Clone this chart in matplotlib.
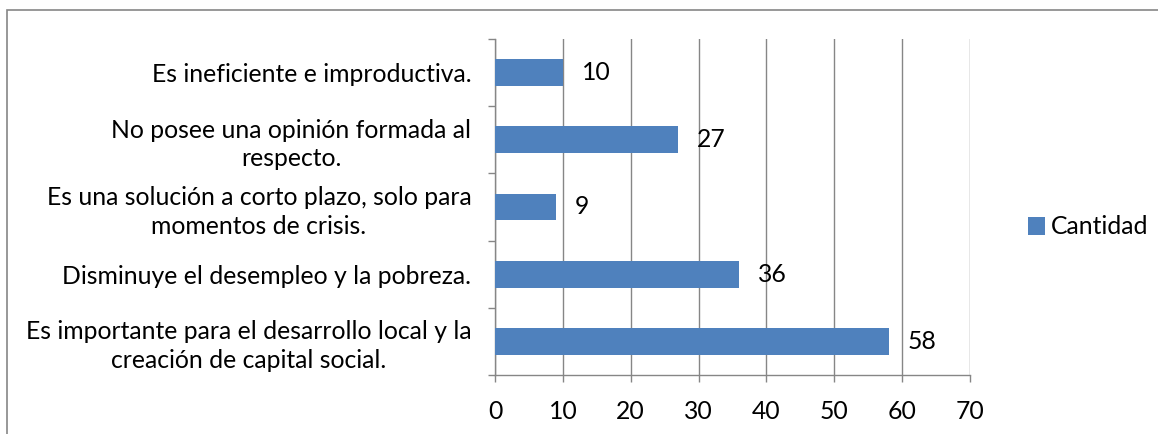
import matplotlib
matplotlib.use("Agg")
import matplotlib.pyplot as plt
from matplotlib.patches import Rectangle

categories = [
    "Es ineficiente e improductiva.",
    "No posee una opinión formada al\nrespecto.",
    "Es una solución a corto plazo, solo para\nmomentos de crisis.",
    "Disminuye el desempleo y la pobreza.",
    "Es importante para el desarrollo local y la\ncreación de capital social.",
]
values = [10, 27, 9, 36, 58]
series_name = "Cantidad"
xticks = [0, 10, 20, 30, 40, 50, 60, 70]

BAR = "#4F81BD"
GRID = "#868686"
FS = 17.8

plt.rcParams["font.family"] = ["Lato", "DejaVu Sans"]

W, H = 1158, 434
fig = plt.figure(figsize=(W / 100, H / 100), dpi=100)
ax = fig.add_axes([495 / W, 1 - 375 / H, 475 / W, 336 / H])

pos = list(range(len(categories)))
ax.barh(pos, values, height=0.4, color=BAR, label=series_name, zorder=3)
for p, v in zip(pos, values):
    ax.text(v + 2.8, p, str(v), va="center", ha="left", fontsize=FS, color="black")

ax.set_xlim(0, 70)
ax.set_ylim(len(categories) - 0.5, -0.5)
ax.set_xticks(xticks)
ax.set_xticklabels([str(t) for t in xticks], fontsize=FS)
ax.set_yticks(pos)
ax.set_yticklabels(categories, fontsize=FS, multialignment="center", linespacing=1.3)
ax.set_yticks([p - 0.5 for p in pos] + [len(pos) - 0.5], minor=True)
ax.tick_params(axis="y", which="major", length=0, pad=17)
ax.tick_params(axis="y", which="minor", length=5, width=1, color=GRID, direction="out")
ax.tick_params(axis="x", length=5, width=1, color=GRID, direction="out", pad=13)
ax.xaxis.grid(True, color=GRID, linewidth=1, zorder=0)
for s in ["top", "right"]:
    ax.spines[s].set_visible(False)
for s in ["left", "bottom"]:
    ax.spines[s].set_color(GRID)
    ax.spines[s].set_linewidth(1)

fig.legend(loc="center left", bbox_to_anchor=(1018 / W, 1 - 227 / H), frameon=False,
           fontsize=FS, handlelength=0.7, handleheight=0.7, handletextpad=0.25,
           borderaxespad=0)

fig.patches.append(Rectangle((7 / W, -0.1), 1.2, 1.1 - 10 / H, transform=fig.transFigure,
                             fill=False, edgecolor=GRID, linewidth=1.2))

fig.savefig("out.png", dpi=100)
